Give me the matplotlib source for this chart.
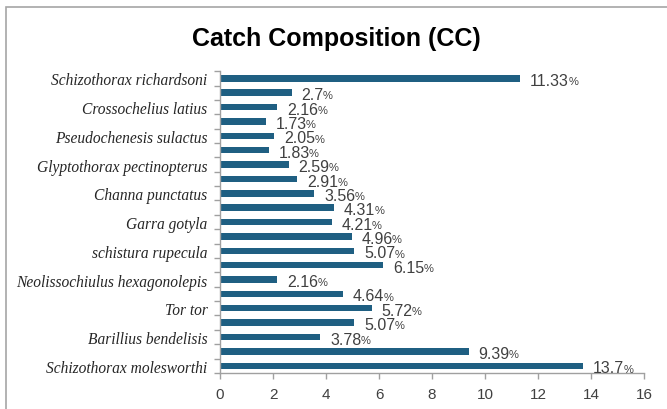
import matplotlib.pyplot as plt
from matplotlib.patches import Rectangle

# bottom to top
species = ['Schizothorax molesworthi', '', 'Barillius bendelisis', '', 'Tor tor', '',
           'Neolissochiulus hexagonolepis', '', 'schistura rupecula', '', 'Garra gotyla', '',
           'Channa punctatus', '', 'Glyptothorax pectinopterus', '', 'Pseudochenesis sulactus', '',
           'Crossochelius latius', '', 'Schizothorax richardsoni']
values = [13.7, 9.39, 3.78, 5.07, 5.72, 4.64, 2.16, 6.15, 5.07, 4.96, 4.21,
          4.31, 3.56, 2.91, 2.59, 1.83, 2.05, 1.73, 2.16, 2.7, 11.33]
value_text = ['13.7', '9.39', '3.78', '5.07', '5.72', '4.64', '2.16', '6.15', '5.07', '4.96', '4.21',
              '4.31', '3.56', '2.91', '2.59', '1.83', '2.05', '1.73', '2.16', '2.7', '11.33']
xticks = [0, 2, 4, 6, 8, 10, 12, 14, 16]

bar_color = '#1f5f82'
grey = '#404040'

fig = plt.figure(figsize=(6.67, 4.1), dpi=100)
ax = fig.add_axes([0.330, 0.088, 0.6355, 0.736])

pos = list(range(len(values)))
ax.barh(pos, values, height=0.45, color=bar_color)
ax.set_xlim(0, 16)
ax.set_ylim(-0.5, len(values) - 0.5)
ax.set_xticks(xticks)
ax.set_xticklabels([str(t) for t in xticks], fontsize=11, color=grey, family='Liberation Sans')

# category labels centered on bars, tick marks at category boundaries
ax.set_yticks(pos)
ax.set_yticklabels(species, family='Liberation Serif', style='italic', fontsize=11.2, color='#262626')
ax.set_yticks([p - 0.5 for p in pos] + [len(values) - 0.5], minor=True)
ax.tick_params(axis='y', which='major', length=0, pad=9)
ax.tick_params(axis='y', which='minor', length=4, color='#a0a0a0', width=1)
ax.tick_params(axis='x', length=4, color='#a0a0a0', width=1, pad=6)

for s in ['top', 'right']:
    ax.spines[s].set_visible(False)
for s in ['left', 'bottom']:
    ax.spines[s].set_color('#a0a0a0')
    ax.spines[s].set_linewidth(1)

fig.canvas.draw()
r = fig.canvas.get_renderer()
for p, v, t in zip(pos, values, value_text):
    num = ax.annotate(t, (v, p), xytext=(7, -1.5), textcoords='offset points',
                      va='center', ha='left', fontsize=11.5, color=grey, family='Liberation Sans')
    w = num.get_window_extent(r).width * 72 / fig.dpi
    ax.annotate('%', (v, p), xytext=(7 + w - 0.5, -2), textcoords='offset points',
                va='center', ha='left', fontsize=8, color=grey, family='Liberation Sans')

fig.text(0.504, 0.905, 'Catch Composition (CC)', ha='center', va='center',
         fontsize=18, fontweight='bold', family=['Liberation Sans Narrow', 'Liberation Sans'])

fig.patches.append(Rectangle((6 / 667, -0.1), 1.2, 1 - 8 / 410 + 0.1, transform=fig.transFigure,
                             fill=False, edgecolor='#a6a6a6', linewidth=1.2))

fig.savefig('out.png', dpi=100)
